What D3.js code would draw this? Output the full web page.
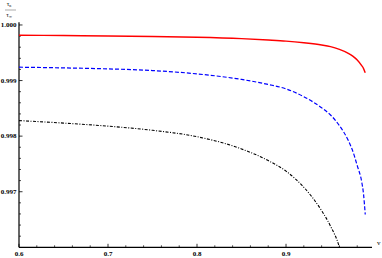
<!DOCTYPE html>
<html>
<head>
<meta charset="utf-8">
<script src="https://cdn.jsdelivr.net/npm/d3@7"></script>
<style>
  body { margin: 0; background: #fff; }
  text { font-family: "Liberation Serif", "DejaVu Serif", serif; fill: #000; }
</style>
</head>
<body>
<svg id="chart" width="382" height="258"></svg>
<script>
// Values.
var vGrid = [0.6, 0.65, 0.7, 0.75, 0.8, 0.85, 0.88, 0.9, 0.92, 0.94, 0.95, 0.96, 0.97, 0.975, 0.98, 0.985, 0.987, 0.989];
var redVals = [0.999815, 0.99981, 0.999803, 0.999793, 0.99978, 0.999755, 0.99973, 0.99971, 0.99968, 0.99964, 0.99961, 0.99956, 0.99949, 0.99944, 0.99937, 0.99927, 0.99922, 0.99914];
var blueVals = [0.99924, 0.999228, 0.99921, 0.99918, 0.99912, 0.99902, 0.99893, 0.99885, 0.99871, 0.99851, 0.99838, 0.99819, 0.99792, 0.99773, 0.99747, 0.99718, 0.99697, 0.99659];
var blackV = [0.6, 0.65, 0.7, 0.75, 0.8, 0.85, 0.88, 0.9, 0.92, 0.94, 0.95, 0.96, 0.962];
var blackVals = [0.99828, 0.998235, 0.99818, 0.998105, 0.99799, 0.99777, 0.99756, 0.99737, 0.99708, 0.99666, 0.99638, 0.99600, 0.99588];

var xTicks = [0.6, 0.7, 0.8, 0.9];
var yTicks = [0.997, 0.998, 0.999, 1.000];

var svg = d3.select("#chart");

// scales
var x = d3.scaleLinear().domain([0.6, 0.9966]).range([19, 372]);
var y = d3.scaleLinear().domain([0.996, 1.00005]).range([247.3, 22.2]);

// clip the curves to the plot region
svg.append("clipPath").attr("id", "clip")
  .append("rect")
  .attr("x", 19).attr("y", 0)
  .attr("width", 360).attr("height", 247.3);

// minor ticks
var xMinor = d3.range(0.62, 0.99, 0.02).filter(function(d) {
  return Math.abs(Math.round(d * 10) - d * 10) > 1e-6;
});
var yMinor = d3.range(0.9962, 1.0, 0.0002).filter(function(d) {
  return Math.abs(Math.round(d * 1000) - d * 1000) > 1e-6;
});

// x axis
var xAxis = svg.append("g")
  .attr("transform", "translate(0," + y(0.996) + ")");
xAxis.append("line")
  .attr("x1", x.range()[0]).attr("x2", x.range()[1])
  .attr("stroke", "#000").attr("stroke-width", 1.2);
xAxis.selectAll(".major").data(xTicks).enter().append("line")
  .attr("x1", function(d) { return x(d); }).attr("x2", function(d) { return x(d); })
  .attr("y1", 0).attr("y2", -3.5)
  .attr("stroke", "#000").attr("stroke-width", 0.8);
xAxis.selectAll(".minor").data(xMinor).enter().append("line")
  .attr("x1", function(d) { return x(d); }).attr("x2", function(d) { return x(d); })
  .attr("y1", 0).attr("y2", -2)
  .attr("stroke", "#000").attr("stroke-width", 0.7);
xAxis.selectAll(".lab").data(xTicks).enter().append("text")
  .attr("x", function(d) { return x(d); })
  .attr("y", 9)
  .attr("text-anchor", "middle")
  .attr("font-size", "7px")
  .attr("font-weight", "bold")
  .text(function(d) { return d3.format(".1f")(d); });
xAxis.append("text")
  .attr("x", 377).attr("y", -2)
  .attr("font-size", "7px")
  .text("v");

// y axis
var yAxis = svg.append("g")
  .attr("transform", "translate(" + x(0.6) + ",0)");
yAxis.append("line")
  .attr("y1", y.range()[0]).attr("y2", y.range()[1])
  .attr("stroke", "#000").attr("stroke-width", 1.2);
yAxis.selectAll(".major").data(yTicks).enter().append("line")
  .attr("y1", function(d) { return y(d); }).attr("y2", function(d) { return y(d); })
  .attr("x1", 0).attr("x2", 3.5)
  .attr("stroke", "#000").attr("stroke-width", 0.8);
yAxis.selectAll(".minor").data(yMinor).enter().append("line")
  .attr("y1", function(d) { return y(d); }).attr("y2", function(d) { return y(d); })
  .attr("x1", 0).attr("x2", 2)
  .attr("stroke", "#000").attr("stroke-width", 0.7);
yAxis.selectAll(".lab").data(yTicks).enter().append("text")
  .attr("x", -2.5)
  .attr("y", function(d) { return y(d) + 2.3; })
  .attr("text-anchor", "end")
  .attr("font-size", "7px")
  .attr("font-weight", "bold")
  .text(function(d) { return d3.format(".3f")(d); });

// y label: tau_n / tau_inf
var lab = svg.append("g").attr("transform", "translate(10,0)");
lab.append("text").attr("x", -1).attr("y", 6).attr("text-anchor", "middle")
  .attr("font-size", "6.5px").text("τ")
  .append("tspan").attr("font-size", "4px").attr("dy", 1).text("n");
lab.append("line").attr("x1", -5).attr("x2", 6).attr("y1", 10).attr("y2", 10)
  .attr("stroke", "#555").attr("stroke-width", 0.5);
lab.append("text").attr("x", -1).attr("y", 17).attr("text-anchor", "middle")
  .attr("font-size", "6.5px").text("τ")
  .append("tspan").attr("font-size", "4px").attr("dy", 1).text("∞");

// curves
var line = d3.line()
  .x(function(d) { return x(d[0]); })
  .y(function(d) { return y(d[1]); })
  .curve(d3.curveMonotoneX);

var series = [
  {v: vGrid, vals: redVals, color: "#ff0000", width: 1.4, dash: null},
  {v: vGrid, vals: blueVals, color: "#0000ff", width: 1.2, dash: "4,2"},
  {v: blackV, vals: blackVals, color: "#000000", width: 1.1, dash: "3,1.5,1,1.5"}
];

svg.append("g").attr("clip-path", "url(#clip)")
  .selectAll("path").data(series).enter().append("path")
  .attr("d", function(s) { return line(s.v.map(function(v, i) { return [v, s.vals[i]]; })); })
  .attr("fill", "none")
  .attr("stroke", function(s) { return s.color; })
  .attr("stroke-width", function(s) { return s.width; })
  .attr("stroke-dasharray", function(s) { return s.dash; });
</script>
</body>
</html>
